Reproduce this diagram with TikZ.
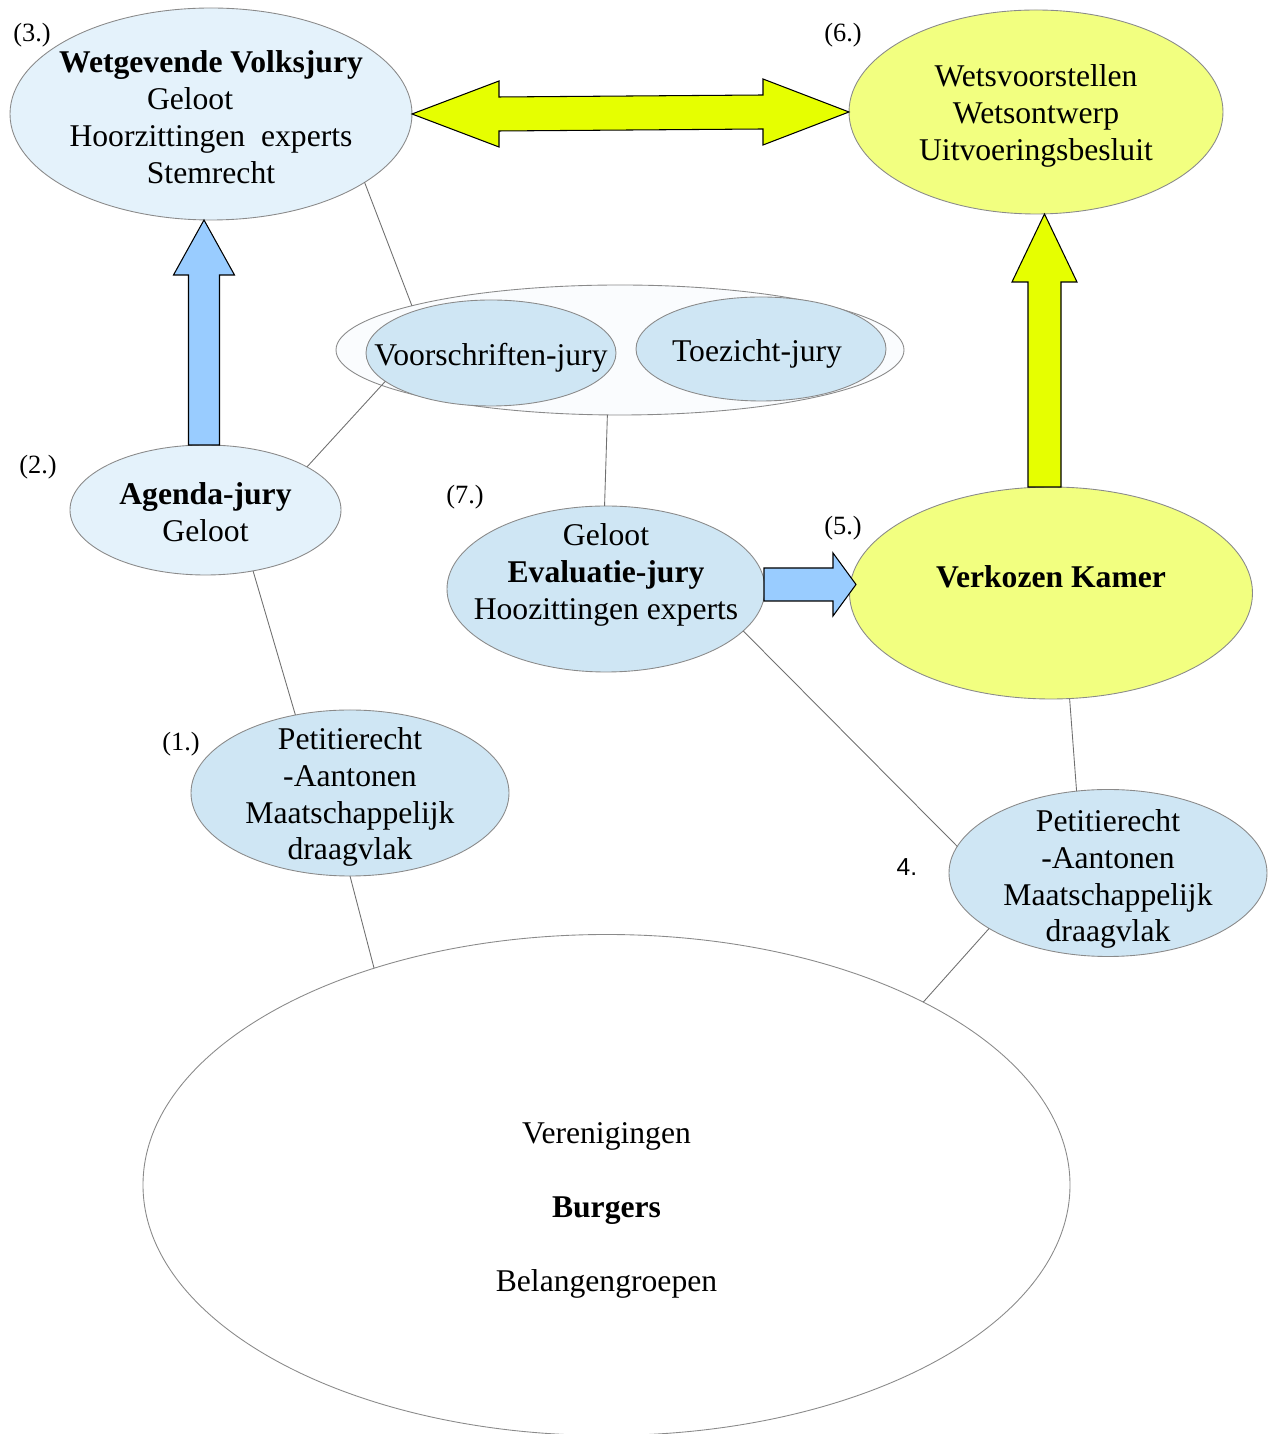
\documentclass[tikz,border=0pt]{standalone}
\usepackage{fontspec}
\setmainfont{Liberation Serif}
\newfontfamily\labelsans{Liberation Sans}
\usetikzlibrary{shapes.geometric}
\usetikzlibrary{calc}

\definecolor{palejury}{HTML}{E4F2FB}
\definecolor{juryblue}{HTML}{CFE6F4}
\definecolor{groupfill}{HTML}{FAFCFE}
\definecolor{kamergeel}{HTML}{F2FF80}
\definecolor{pijlgeel}{HTML}{E6FF00}
\definecolor{pijlblauw}{HTML}{99CCFF}
\definecolor{randgrijs}{HTML}{8A8A8A}
\definecolor{lijngrijs}{HTML}{707070}

\tikzset{
	jury/.style={ellipse, draw=randgrijs, line width=0.5pt, inner sep=0pt, outer sep=0pt},
	jurytext/.style={align=center, font=\fontsize{18}{21}\selectfont},
	steplabel/.style={font=\fontsize{15}{18}\selectfont},
	link/.style={draw=lijngrijs, line width=0.5pt},
	blockarrow/.style={draw=black, line width=0.6pt, line join=miter},
}

\begin{document}
\begin{tikzpicture}
	\useasboundingbox (0,0) rectangle (25.38,28.68);

%% Ellipses
	\draw (4.22,26.40) node[jury, fill=palejury, minimum width=8.04cm, minimum height=4.24cm] (volksjury){};
	\draw (20.72,26.44) node[jury, fill=kamergeel, minimum width=7.48cm, minimum height=4.08cm] (wetsvoorstellen){};
	\draw (12.40,21.68) node[jury, fill=groupfill, minimum width=11.36cm, minimum height=2.60cm] (groep){};
	\draw (9.82,21.62) node[jury, fill=juryblue, minimum width=5.00cm, minimum height=2.12cm] (voorschriften){};
	\draw (15.22,21.70) node[jury, fill=juryblue, minimum width=5.00cm, minimum height=2.08cm] (toezicht){};
	\draw (4.11,18.48) node[jury, fill=palejury, minimum width=5.42cm, minimum height=2.60cm] (agenda){};
	\draw (12.12,16.90) node[jury, fill=juryblue, minimum width=6.36cm, minimum height=3.32cm] (evaluatie){};
	\draw (21.02,16.82) node[jury, fill=kamergeel, minimum width=8.06cm, minimum height=4.24cm] (kamer){};
	\draw (7.00,12.82) node[jury, fill=juryblue, minimum width=6.36cm, minimum height=3.32cm] (petitie-een){};
	\draw (22.16,11.22) node[jury, fill=juryblue, minimum width=6.36cm, minimum height=3.34cm] (petitie-vier){};
	\draw (12.13,4.98) node[jury, fill=white, minimum width=18.54cm, minimum height=10.02cm] (burgers){};

%% Texts
	\draw (volksjury.center) node[jurytext, yshift=-0.06cm] (volksjury-text){\textbf{Wetgevende Volksjury}\\ \makebox[2.56cm][l]{Geloot}\\ Hoorzittingen\ \ experts\\ Stemrecht};
	\draw (wetsvoorstellen.center) node[jurytext, yshift=-0.08cm] (wetsvoorstellen-text){Wetsvoorstellen\\ Wetsontwerp\\ Uitvoeringsbesluit};
	\draw (voorschriften.center) node[jurytext, yshift=-0.10cm] (voorschriften-text){Voorschriften-jury};
	\draw (toezicht.center) node[jurytext, xshift=-0.08cm, yshift=-0.10cm] (toezicht-text){Toezicht-jury};
	\draw (agenda.center) node[jurytext, yshift=-0.04cm] (agenda-text){\textbf{Agenda-jury}\\ Geloot};
	\draw (evaluatie.center) node[jurytext, yshift=0.28cm] (evaluatie-text){Geloot\\ \textbf{Evaluatie-jury}\\ Hoozittingen experts};
	\draw (kamer.center) node[jurytext, yshift=0.32cm] (kamer-text){\textbf{Verkozen Kamer}};
	\draw (petitie-een.center) node[jurytext, yshift=-0.08cm] (petitie-een-text){Petitierecht\\ -Aantonen\\ Maatschappelijk\\ draagvlak};
	\draw (petitie-vier.center) node[jurytext, yshift=-0.12cm] (petitie-vier-text){Petitierecht\\ -Aantonen\\ Maatschappelijk\\ draagvlak};
	\draw (burgers.center) node[jurytext, yshift=-0.51cm] (burgers-text){Verenigingen\\[21pt] \textbf{Burgers}\\[21pt] Belangengroepen};

%% Step labels
	\draw (0.64,27.98) node[steplabel] (stap-drie){(3.)};
	\draw (16.86,27.98) node[steplabel] (stap-zes){(6.)};
	\draw (0.76,19.34) node[steplabel] (stap-twee){(2.)};
	\draw (9.30,18.74) node[steplabel] (stap-zeven){(7.)};
	\draw (16.86,18.12) node[steplabel] (stap-vijf){(5.)};
	\draw (3.62,13.80) node[steplabel] (stap-een){(1.)};
	\draw (18.14,11.34) node[font=\labelsans\fontsize{14}{16}\selectfont] (stap-vier){4.};

%% Lines
	\draw[link] (volksjury.-24) -- (groep.168);
	\draw[link] (voorschriften.-165) -- (agenda.23);
	\draw[link] (groep.-101) -- (evaluatie.91);
	\draw[link] (agenda.-52) -- (petitie-een.125);
	\draw[link] (petitie-een.-90) -- (burgers.137);
	\draw[link] (evaluatie.-17) -- (petitie-vier.170);
	\draw[link] (kamer.-80) -- (petitie-vier.111);
	\draw[link] (petitie-vier.-155) -- (burgers.30);

%% Block arrows
	% double arrow between the volksjury and the wetsvoorstellen
	\draw[blockarrow, fill=pijlgeel] (volksjury.east) -- ++(1.74,0.66) -- ++(0,-0.32)
		-- ($(wetsvoorstellen.west)+(-1.72,0.34)$) -- ++(0,0.32) -- (wetsvoorstellen.west)
		-- ++(-1.72,-0.66) -- ++(0,0.32) -- ($(volksjury.east)+(1.74,-0.34)$) -- ++(0,-0.32) -- cycle;
	% agenda up to volksjury
	\coordinate (agenda-voet) at ($(agenda.north)+(-0.03,0)$);
	\coordinate (agenda-punt) at (agenda-voet |- volksjury.south);
	\draw[blockarrow, fill=pijlblauw] ($(agenda-voet)+(-0.31,0)$) -- ($(agenda-punt)+(-0.31,-1.10)$)
		-- ++(-0.30,0) -- (agenda-punt) -- ++(0.61,-1.10) -- ++(-0.30,0) -- ($(agenda-voet)+(0.31,0)$) -- cycle;
	% kamer up to wetsvoorstellen
	\coordinate (kamer-voet) at ($(kamer.north)+(-0.13,0)$);
	\coordinate (kamer-punt) at (kamer-voet |- wetsvoorstellen.south);
	\draw[blockarrow, fill=pijlgeel] ($(kamer-voet)+(-0.33,0)$) -- ($(kamer-punt)+(-0.33,-1.36)$)
		-- ++(-0.32,0) -- (kamer-punt) -- ++(0.65,-1.36) -- ++(-0.32,0) -- ($(kamer-voet)+(0.33,0)$) -- cycle;
	% evaluatie to kamer
	\coordinate (evaluatie-voet) at ($(evaluatie.east)+(-0.02,0.09)$);
	\draw[blockarrow, fill=pijlblauw] ($(evaluatie-voet)+(0,0.33)$) -- ++(1.38,0) -- ++(0,0.30)
		-- ++(0.46,-0.63) -- ++(-0.46,-0.63) -- ++(0,0.30) -- ++(-1.38,0) -- cycle;
\end{tikzpicture}
\end{document}
